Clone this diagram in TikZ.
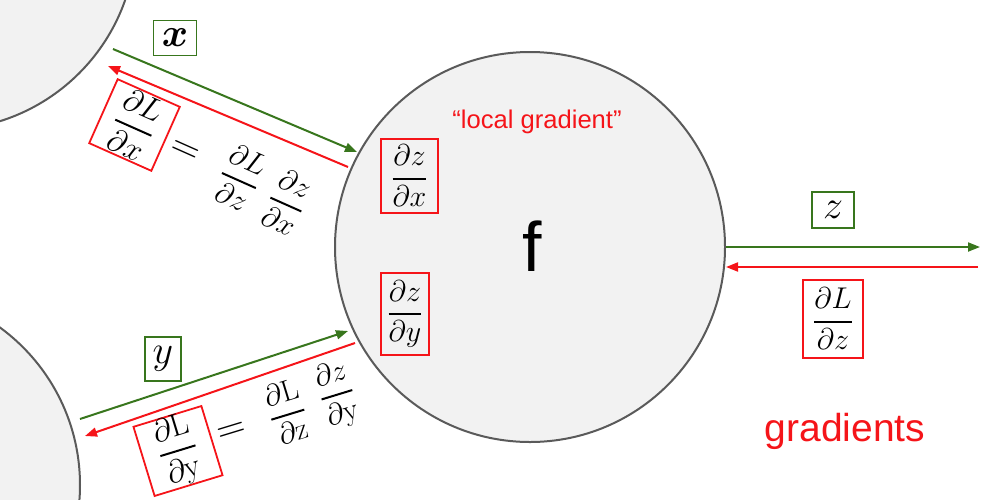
\RequirePackage{fix-cm}
\documentclass[tikz,border=0pt]{standalone}
\usepackage{amsmath}
\usepackage{fontspec}
\newfontfamily\arialf{Liberation Sans}
\usetikzlibrary{arrows.meta}
\definecolor{grn}{RGB}{56,118,29}
\definecolor{rd}{RGB}{245,20,25}
\definecolor{cfill}{RGB}{242,242,242}
\definecolor{cline}{RGB}{90,90,90}
\newcommand{\pfr}[2]{\genfrac{}{}{1pt}{0}{#1}{#2}}
\tikzset{
  cnode/.style={circle, draw=cline, fill=cfill, line width=1pt, inner sep=0pt},
  gbox/.style={draw=grn, line width=0.9pt, inner sep=0pt, fill=white},
  rbox/.style={draw=rd, line width=0.9pt, inner sep=0pt},
  garrow/.style={draw=grn, line width=1pt, -{Triangle[length=6pt,width=4.5pt]}},
  rarrow/.style={draw=rd, line width=1pt, -{Triangle[length=6pt,width=4.5pt]}},
  bigv/.style={font=\fontsize{20}{24}\selectfont},
  fr/.style={font=\fontsize{15}{18}\selectfont},
  eqf/.style={font=\fontsize{15}{18}\selectfont, inner sep=0pt},
}
\begin{document}
\begin{tikzpicture}[x=0.5pt,y=-0.5pt]
\useasboundingbox (0,0) rectangle (983,499);
\begin{scope}
\clip (0,0) rectangle (983,499);
\node[cnode, minimum size=194pt] (nx) at (-58,-64) {};
\node[cnode, minimum size=195pt] (ny) at (-115,485) {};
\end{scope}
\node[cnode, minimum size=195pt] (f) at (530,247) {};
\node[font=\arialf\fontsize{35}{40}\selectfont, inner sep=0pt] (flab) at (532,246) {f};
\node[font=\arialf\fontsize{12.8}{15}\selectfont, text=rd, inner sep=0pt] (loc) at (537,122) {“local gradient”};
\node[font=\arialf\fontsize{19.5}{23}\selectfont, text=rd, inner sep=0pt] (grads) at (845,431) {gradients};

% top-left arrows
\coordinate (xs) at (113,49);
\coordinate (xe) at (357,152);
\coordinate (xrs) at (348,167);
\coordinate (xre) at (108,66);
\draw[garrow] (xs) -- (xe);
\draw[rarrow] (xrs) -- (xre);
% bottom-left arrows
\coordinate (ys) at (80,419);
\coordinate (ye) at (348,331);
\coordinate (yrs) at (355,343);
\coordinate (yre) at (85,436);
\draw[garrow] (ys) -- (ye);
\draw[rarrow] (yrs) -- (yre);
% right arrows
\coordinate (zs) at (726,247);
\coordinate (ze) at (980,247);
\coordinate (zrs) at (978,267);
\coordinate (zre) at (726,267);
\draw[garrow] (zs) -- (ze);
\draw[rarrow] (zrs) -- (zre);

% value boxes
\node[gbox, bigv, minimum width=21.5pt, minimum height=17.5pt] (xl) at (175,38) {$\boldsymbol{x}$};
\node[gbox, bigv, minimum width=18pt, minimum height=22pt] (yl) at (163,359) {$y$};
\node[gbox, bigv, minimum width=21pt, minimum height=18pt] (zl) at (833,210) {$z$};

% local gradients
\node[rbox, fr, minimum width=28.5pt, minimum height=37pt] (dzdx) at (409.5,176) {$\pfr{\partial z}{\partial x}$};
\node[rbox, fr, minimum width=24pt, minimum height=41pt] (dzdy) at (405,314) {$\pfr{\partial z}{\partial y}$};
\node[rbox, fr, minimum width=30pt, minimum height=39pt] (dLdz) at (833,319) {$\pfr{\partial L}{\partial z}$};

% top equation
\node[rbox, font=\fontsize{16}{19}\selectfont, minimum width=34pt, minimum height=35pt, rotate=-24] (dLdx) at (134.5,125) {$\pfr{\partial L}{\partial x}$};
\node[bigv, inner sep=0pt, rotate=-24] (eqx) at (185,152) {$=$};
\node[eqf, rotate=-24] (fx1) at (240,178) {$\pfr{\partial L}{\partial z}$};
\node[eqf, rotate=-24] (fx2) at (287,202) {$\pfr{\partial z}{\partial x}$};

% bottom equation
\node[rbox, font=\fontsize{16}{19}\selectfont, minimum width=35.5pt, minimum height=34.5pt, rotate=17] (dLdy) at (178,451) {$\pfr{\partial \mathrm{L}}{\partial \mathrm{y}}$};
\node[bigv, inner sep=0pt, rotate=17] (eqy) at (232,432) {$=$};
\node[eqf, rotate=17] (fy1) at (287,412) {$\pfr{\partial \mathrm{L}}{\partial \mathrm{z}}$};
\node[eqf, rotate=17] (fy2) at (337,395) {$\pfr{\partial z}{\partial \mathrm{y}}$};
\end{tikzpicture}
\end{document}
